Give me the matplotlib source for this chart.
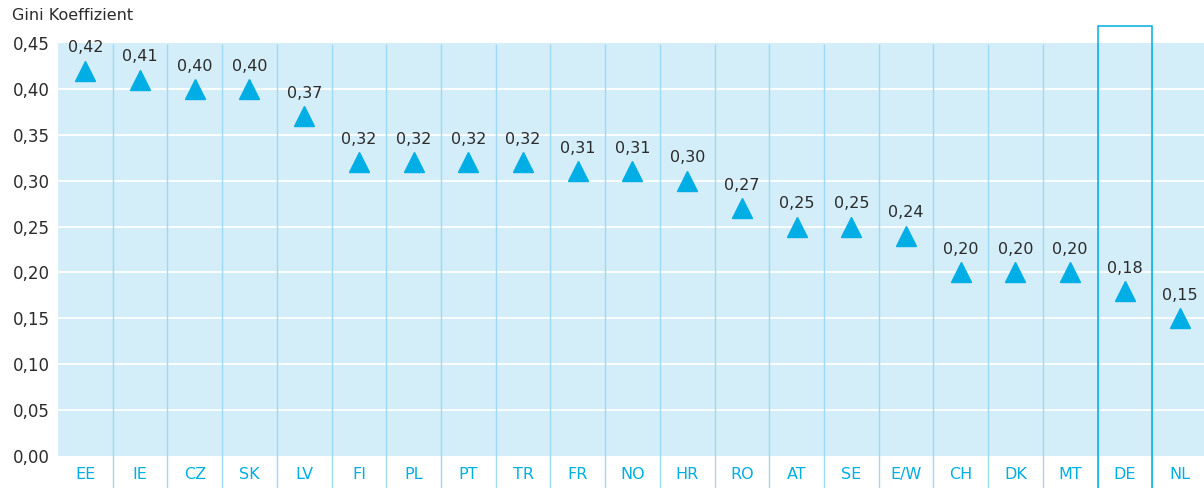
import matplotlib.pyplot as plt
import matplotlib.transforms as mtransforms
from matplotlib.patches import Rectangle
import numpy as np

plt.rcParams['font.family'] = ['DejaVu Sans']

# Daten
laender = ['EE', 'IE', 'CZ', 'SK', 'LV', 'FI', 'PL', 'PT', 'TR', 'FR', 'NO',
           'HR', 'RO', 'AT', 'SE', 'E/W', 'CH', 'DK', 'MT', 'DE', 'NL']
gini = [0.42, 0.41, 0.40, 0.40, 0.37, 0.32, 0.32, 0.32, 0.32, 0.31, 0.31,
        0.30, 0.27, 0.25, 0.25, 0.24, 0.20, 0.20, 0.20, 0.18, 0.15]
y_ticks = np.arange(0, 0.46, 0.05)
markiert = 'DE'

blau = '#00aee6'
hell = '#d3edf9'
linie = '#9fd9f3'
text = '#2b2b2b'

W, H = 1204, 488
fig = plt.figure(figsize=(W / 100, H / 100), dpi=100)
# Achse in Pixeln: links 58, rechts 1207, oben 43, unten 456
ax = fig.add_axes([58 / W, (H - 456) / H, (1207 - 58) / W, (456 - 43) / H])
ax.set_facecolor(hell)
for s in ax.spines.values():
    s.set_visible(False)

x = np.arange(len(laender))
ax.set_xlim(-0.5, len(laender) - 0.5)
ax.set_ylim(0, 0.45)

# weisse Gitterlinien
for yv in y_ticks[1:-1]:
    ax.axhline(yv, color='white', lw=1.3, zorder=1)

# senkrechte Trennlinien, bis zum unteren Rand
unten = -(H - 456) / (456 - 43)
for i in range(len(laender) - 1):
    ax.axvline(i + 0.5, ymin=unten, ymax=0.995, color=linie, lw=1, clip_on=False, zorder=1)

# Rahmen um DE
trans = mtransforms.blended_transform_factory(ax.transData, ax.transAxes)
k = laender.index(markiert)
oben = (456 - 26) / (456 - 43)
ax.add_patch(Rectangle((k - 0.5, unten - 0.05), 1, oben - unten + 0.05, transform=trans,
                       fill=False, edgecolor=blau, lw=1.1, clip_on=False, zorder=3))

ax.plot(x, gini, linestyle='none', marker='^', markersize=15, color=blau, zorder=4)
for xi, v in zip(x, gini):
    ax.annotate(f'{v:.2f}'.replace('.', ','), (xi, v), xytext=(0, 11),
                textcoords='offset points', ha='center', va='bottom',
                fontsize=11.5, color=text, zorder=5)

ax.set_yticks(y_ticks)
ax.set_yticklabels([f'{v:.2f}'.replace('.', ',') for v in y_ticks])
ax.set_xticks(x)
ax.set_xticklabels(laender)
ax.tick_params(axis='y', length=0, pad=6, labelsize=12, labelcolor=text)
ax.tick_params(axis='x', length=0, pad=8, labelsize=11.5, labelcolor=blau)

fig.text(12 / W, 1 - 16 / H, 'Gini Koeffizient', fontsize=11.5, color=text,
         ha='left', va='center')

fig.savefig('out.png', dpi=100)
